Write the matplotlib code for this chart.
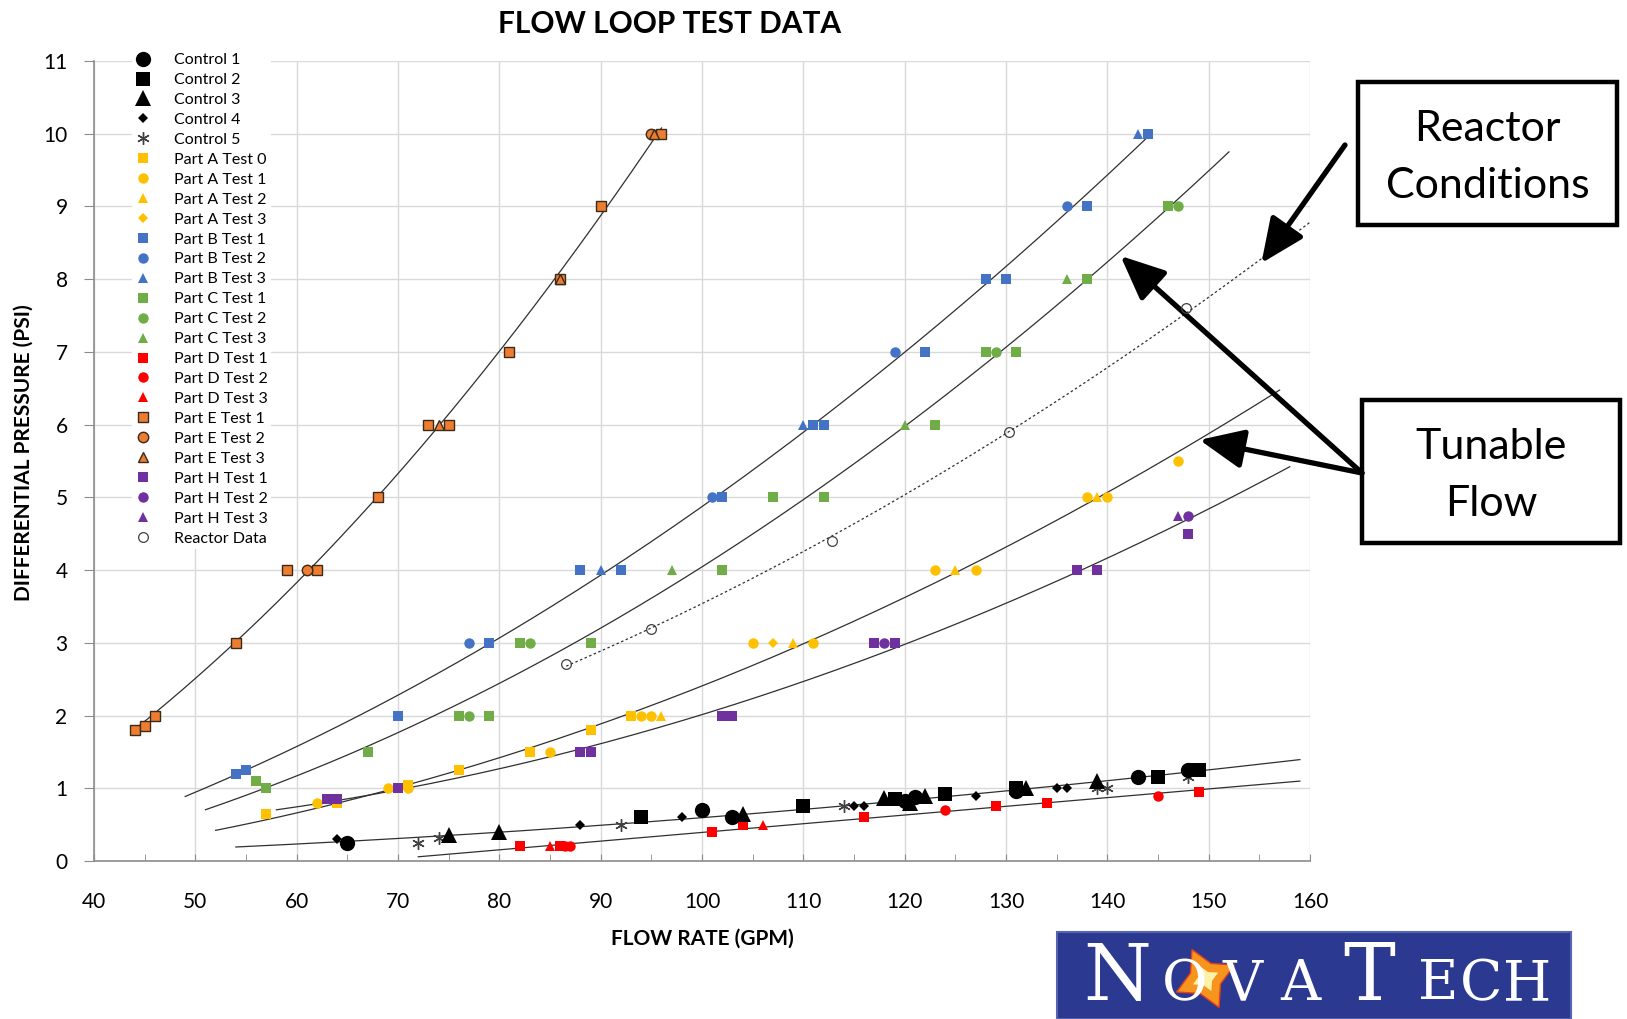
import numpy as np
import matplotlib
matplotlib.use('Agg')
import matplotlib.pyplot as plt
from matplotlib.patches import Rectangle
from matplotlib.lines import Line2D

plt.rcParams['font.family'] = ['Lato', 'DejaVu Sans']

W, H = 1627, 1019

# control runs (black markers)
ctrl1_x = [65, 100, 103, 120, 121, 131, 143, 148]
ctrl1_y = [0.25, 0.7, 0.6, 0.82, 0.88, 0.96, 1.16, 1.25]
ctrl2_x = [94, 110, 119, 124, 131, 145, 148.5, 149]
ctrl2_y = [0.6, 0.76, 0.85, 0.92, 1.0, 1.16, 1.25, 1.25]
ctrl3_x = [75, 80, 104, 118, 120.5, 122, 132, 139]
ctrl3_y = [0.36, 0.4, 0.65, 0.86, 0.8, 0.9, 1.0, 1.1]
ctrl4_x = [64, 88, 98, 115, 116, 127, 135, 136]
ctrl4_y = [0.3, 0.5, 0.6, 0.76, 0.76, 0.9, 1.0, 1.0]
ctrl5_x = [72, 74, 92, 114, 139, 140, 148]
ctrl5_y = [0.25, 0.32, 0.5, 0.76, 1.0, 1.0, 1.15]

# part A (yellow)
a0_x = [57, 64, 71, 76, 83, 89, 93]
a0_y = [0.65, 0.8, 1.05, 1.25, 1.5, 1.8, 2]
a1_x = [62, 69, 71, 85, 94, 95, 105, 111, 123, 127, 138, 140, 147]
a1_y = [0.8, 1, 1, 1.5, 2, 2, 3, 3, 4, 4, 5, 5, 5.5]
a2_x = [96, 109, 125, 139]
a2_y = [2, 3, 4, 5]
a3_x = [107]
a3_y = [3]

# part B (blue)
b1_x = [54, 55, 70, 79, 88, 92, 102, 111, 112, 122, 128, 130, 138, 144]
b1_y = [1.2, 1.25, 2, 3, 4, 4, 5, 6, 6, 7, 8, 8, 9, 10]
b2_x = [77, 101, 119, 136]
b2_y = [3, 5, 7, 9]
b3_x = [90, 110, 143]
b3_y = [4, 6, 10]

# part C (green)
c1_x = [56, 57, 67, 76, 79, 82, 89, 102, 107, 112, 123, 128, 131, 138, 146]
c1_y = [1.1, 1, 1.5, 2, 2, 3, 3, 4, 5, 5, 6, 7, 7, 8, 9]
c2_x = [77, 83, 129, 147]
c2_y = [2, 3, 7, 9]
c3_x = [97, 120, 136]
c3_y = [4, 6, 8]

# part D (red)
d1_x = [82, 86, 101, 104, 116, 129, 134, 149]
d1_y = [0.2, 0.2, 0.4, 0.5, 0.6, 0.76, 0.8, 0.95]
d2_x = [86.5, 87, 124, 145]
d2_y = [0.2, 0.2, 0.7, 0.9]
d3_x = [85, 106]
d3_y = [0.2, 0.5]

# part E (orange)
e1_x = [44, 45, 46, 54, 59, 62, 68, 73, 75, 81, 86, 90, 96]
e1_y = [1.8, 1.85, 2, 3, 4, 4, 5, 6, 6, 7, 8, 9, 10]
e2_x = [61, 95]
e2_y = [4, 10]
e3_x = [74, 86, 95.3]
e3_y = [6, 8, 10]

# part H (purple)
h1_x = [63, 64, 70, 88, 89, 102, 103, 117, 119, 137, 139, 148]
h1_y = [0.85, 0.85, 1, 1.5, 1.5, 2, 2, 3, 3, 4, 4, 4.5]
h2_x = [118, 148]
h2_y = [3, 4.75]
h3_x = [147]
h3_y = [4.75]

# reactor
reactor_x = [86.6, 95, 112.8, 130.3, 147.8]
reactor_y = [2.71, 3.19, 4.4, 5.9, 7.6]

x_ticks = list(range(40, 161, 10))
y_ticks = list(range(0, 12))

YEL, BLU, GRN, RED, ORA, PUR = '#FFC000', '#4472C4', '#70AD47', '#FF0000', '#ED7D31', '#7030A0'
AST = (6, 2, 0)

series = [
    ('Control 1', ctrl1_x, ctrl1_y, 'o', 'black', 11),
    ('Control 2', ctrl2_x, ctrl2_y, 's', 'black', 10),
    ('Control 3', ctrl3_x, ctrl3_y, '^', 'black', 11),
    ('Control 4', ctrl4_x, ctrl4_y, 'D', 'black', 5.5),
    ('Control 5', ctrl5_x, ctrl5_y, AST, '#404040', 9),
    ('Part A Test 0', a0_x, a0_y, 's', YEL, 7),
    ('Part A Test 1', a1_x, a1_y, 'o', YEL, 7.5),
    ('Part A Test 2', a2_x, a2_y, '^', YEL, 7.5),
    ('Part A Test 3', a3_x, a3_y, 'D', YEL, 5),
    ('Part B Test 1', b1_x, b1_y, 's', BLU, 7),
    ('Part B Test 2', b2_x, b2_y, 'o', BLU, 7.5),
    ('Part B Test 3', b3_x, b3_y, '^', BLU, 7.5),
    ('Part C Test 1', c1_x, c1_y, 's', GRN, 7),
    ('Part C Test 2', c2_x, c2_y, 'o', GRN, 7.5),
    ('Part C Test 3', c3_x, c3_y, '^', GRN, 7.5),
    ('Part D Test 1', d1_x, d1_y, 's', RED, 7),
    ('Part D Test 2', d2_x, d2_y, 'o', RED, 7.5),
    ('Part D Test 3', d3_x, d3_y, '^', RED, 7.5),
    ('Part E Test 1', e1_x, e1_y, 's', ORA, 7),
    ('Part E Test 2', e2_x, e2_y, 'o', ORA, 7.5),
    ('Part E Test 3', e3_x, e3_y, '^', ORA, 7.5),
    ('Part H Test 1', h1_x, h1_y, 's', PUR, 7.5),
    ('Part H Test 2', h2_x, h2_y, 'o', PUR, 7.5),
    ('Part H Test 3', h3_x, h3_y, '^', PUR, 7.5),
    ('Reactor Data', reactor_x, reactor_y, 'o', 'none', 7),
]

# trendlines: data group, fit type, x range, line style
trends = [
    (e1_x + e2_x + e3_x, e1_y + e2_y + e3_y, 'quad', 44, 96, '-'),
    (b1_x + b2_x + b3_x, b1_y + b2_y + b3_y, 'quad', 49, 144, '-'),
    (c1_x + c2_x + c3_x, c1_y + c2_y + c3_y, 'quad', 51, 152, '-'),
    (reactor_x, reactor_y, 'pow', 86.6, 160, (0, (2, 2))),
    (a0_x + a1_x + a2_x + a3_x, a0_y + a1_y + a2_y + a3_y, 'quad', 52, 157, '-'),
    (h1_x + h2_x + h3_x, h1_y + h2_y + h3_y, 'quad', 58, 158, '-'),
    (ctrl1_x + ctrl2_x + ctrl3_x + ctrl4_x + ctrl5_x,
     ctrl1_y + ctrl2_y + ctrl3_y + ctrl4_y + ctrl5_y, 'pow', 54, 159, '-'),
    (d1_x + d2_x + d3_x, d1_y + d2_y + d3_y, 'lin', 72, 159, '-'),
]


def fit_curve(xs, ys, kind, xx):
    xs, ys = np.asarray(xs, float), np.asarray(ys, float)
    if kind == 'pow':
        b, a = np.polyfit(np.log(xs), np.log(ys), 1)
        return np.exp(a) * xx ** b
    deg = 2 if kind == 'quad' else 1
    return np.polyval(np.polyfit(xs, ys, deg), xx)


fig = plt.figure(figsize=(W / 100, H / 100), dpi=100)
ax = fig.add_axes([94 / W, 1 - 861 / H, (1310 - 94) / W, 800 / H])

for xs, ys, kind, x0, x1, ls in trends:
    xx = np.linspace(x0, x1, 200)
    ax.plot(xx, fit_curve(xs, ys, kind, xx), color='#303030', lw=0.9, ls=ls, zorder=2)

handles = []
for label, xs, ys, m, c, ms in series:
    if label.startswith('Part E'):
        ec, mew = '#3a2a1a', 1.0
    elif label == 'Reactor Data':
        ec, mew = '#404040', 0.9
    elif m == AST:
        ec, mew = c, 1.0
    else:
        ec, mew = c, 0
    ln, = ax.plot(xs, ys, ls='none', marker=m, ms=ms, mfc=c, mec=ec, mew=mew,
                  label=label, zorder=4 if c != 'black' else 5)
    handles.append(ln)

ax.set_xlim(40, 160)
ax.set_ylim(0, 11)
ax.set_xticks(x_ticks)
ax.set_xticks(range(45, 160, 10), minor=True)
ax.set_yticks(y_ticks)
ax.grid(True, which='major', color='#d9d9d9', lw=1)
ax.set_axisbelow(True)
for s in ['top', 'right']:
    ax.spines[s].set_visible(False)
for s in ['left', 'bottom']:
    ax.spines[s].set_color('#8c8c8c')
    ax.spines[s].set_linewidth(1.2)
ax.tick_params(axis='x', which='both', direction='in', length=5, color='#8c8c8c',
               labelsize=15, pad=22)
ax.tick_params(axis='y', direction='out', length=7, color='#8c8c8c', labelsize=15, pad=12)

ax.set_xlabel('FLOW RATE (GPM)', fontsize=15, fontweight='bold')
ax.xaxis.set_label_coords(0.5, -0.084)
ax.set_ylabel('DIFFERENTIAL PRESSURE (PSI)', fontsize=15, fontweight='bold')
ax.yaxis.set_label_coords(-0.050, 0.51)

fig.text(670 / W, 1 - 24 / H, 'FLOW LOOP TEST DATA', ha='center', va='center',
         fontsize=21.5, fontweight='bold')

leg = ax.legend(handles=handles, loc='upper left', bbox_to_anchor=(0.031, 1.014),
                fontsize=11.5, frameon=True, facecolor='white', edgecolor='none',
                framealpha=1, labelspacing=0.36, handlelength=1.0, handletextpad=1.44,
                borderpad=0.2, borderaxespad=0.0)
leg.set_zorder(6)
leg.get_frame().set_boxstyle('square', pad=0)


# callout boxes
def callout(x0, y0, x1, y1, txt):
    fig.add_artist(Rectangle((x0 / W, 1 - y1 / H), (x1 - x0) / W, (y1 - y0) / H,
                             transform=fig.transFigure, fill=False, ec='black', lw=3.2))
    fig.text((x0 + x1) / 2 / W, 1 - ((y0 + y1) / 2 + 4) / H, txt, ha='center', va='center',
             fontsize=31, linespacing=1.6)


callout(1358, 82, 1617, 225, 'Reactor\nConditions')
callout(1362, 400, 1620, 543, 'Tunable\nFlow')

arrow = dict(arrowstyle='-|>,head_length=1.35,head_width=0.6', lw=3.8, color='black',
             mutation_scale=20, shrinkA=0, shrinkB=0)
ax.annotate('', xy=(155.2, 8.22), xytext=(1345, H - 145), textcoords='figure pixels',
            arrowprops=arrow, annotation_clip=False)
ax.annotate('', xy=(141.3, 8.32), xytext=(1362, H - 473), textcoords='figure pixels',
            arrowprops=arrow, annotation_clip=False)
ax.annotate('', xy=(149.1, 5.79), xytext=(1362, H - 473), textcoords='figure pixels',
            arrowprops=arrow, annotation_clip=False)

# logo
fig.add_artist(Rectangle((1057 / W, 0), (1571 - 1057) / W, (H - 932) / H,
                         transform=fig.transFigure, fc='#2B3990', ec='#5563b0', lw=1.5))
logo_parts = [('N', 1083, 56), ('O', 1162, 40), ('V', 1222, 40), ('A', 1280, 40),
              ('T', 1343, 56), ('E', 1418, 40), ('C', 1460, 40), ('H', 1503, 40)]
for t, px, fs in logo_parts:
    fig.text(px / W, 19 / H, t, ha='left', va='baseline', color='white', fontsize=fs,
             family='DejaVu Serif')
fig.add_artist(Line2D([1205 / W], [1 - 978 / H], marker=(4, 1, 25), ms=46, mfc='#F7941D',
                      mec='#E2401C', mew=1, transform=fig.transFigure))
fig.add_artist(Line2D([1205 / W], [1 - 978 / H], marker=(4, 1, 25), ms=20, mfc='#FFF2A8',
                      mec='none', transform=fig.transFigure))

fig.savefig('out.png', dpi=100)
